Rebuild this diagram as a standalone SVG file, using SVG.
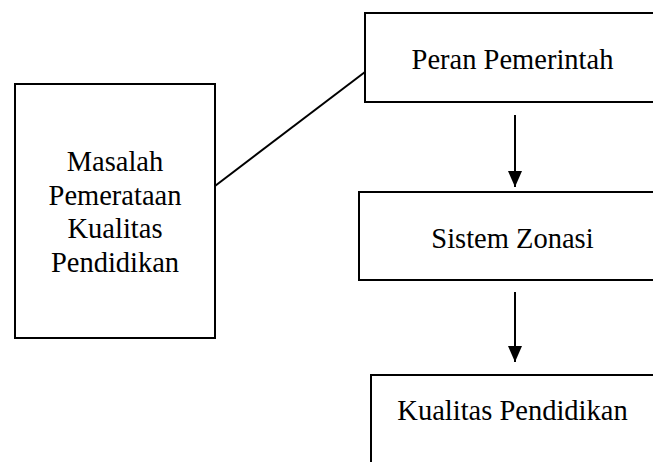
<svg xmlns="http://www.w3.org/2000/svg" width="653" height="462" viewBox="0 0 653 462">
<style>
.box{fill:#fff;stroke:#000;stroke-width:2}
.t{font-family:'Liberation Serif','Times New Roman','DejaVu Serif',serif;font-size:28.5px;fill:#000;text-anchor:middle}
.c{stroke:#000;stroke-width:2;fill:none}
</style>
<defs>
<marker id="ah" viewBox="0 0 16 14" refX="16" refY="7" markerWidth="16" markerHeight="14" markerUnits="userSpaceOnUse" orient="auto">
<path d="M0,0 L16,7 L0,14 Z" fill="#000"/>
</marker>
</defs>
<rect width="653" height="462" fill="#fff"/>
<g id="masalah">
<rect class="box" x="15" y="84" width="200" height="254"/>
<text class="t" font-family="Liberation Serif, serif" x="115" y="171">Masalah</text>
<text class="t" font-family="Liberation Serif, serif" x="115" y="204.5">Pemerataan</text>
<text class="t" font-family="Liberation Serif, serif" x="115" y="238">Kualitas</text>
<text class="t" font-family="Liberation Serif, serif" x="115" y="271.5">Pendidikan</text>
</g>
<g id="peran">
<rect class="box" x="365" y="13" width="310" height="89"/>
<text class="t" font-family="Liberation Serif, serif" x="512.5" y="69">Peran Pemerintah</text>
</g>
<g id="sistem">
<rect class="box" x="359" y="192" width="316" height="88"/>
<text class="t" font-family="Liberation Serif, serif" x="512.5" y="248">Sistem Zonasi</text>
</g>
<g id="kualitas">
<rect class="box" x="371" y="375" width="304" height="100"/>
<text class="t" font-family="Liberation Serif, serif" x="512.5" y="420">Kualitas Pendidikan</text>
</g>
<g id="connectors">
<line class="c" x1="215" y1="186" x2="365" y2="72"/>
<line class="c" x1="515" y1="115" x2="515" y2="187" marker-end="url(#ah)"/>
<line class="c" x1="515" y1="292" x2="515" y2="362" marker-end="url(#ah)"/>
</g>
</svg>
